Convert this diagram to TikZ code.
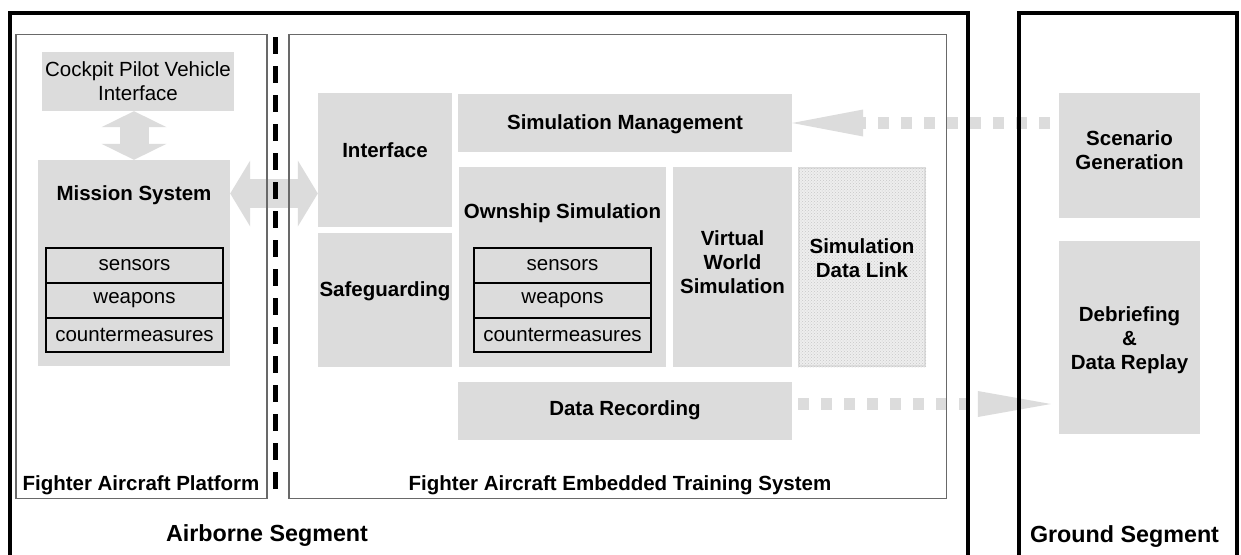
\documentclass[tikz,border=0pt]{standalone}
\usepackage{fontspec}
\setmainfont{Liberation Sans}
\usetikzlibrary{arrows.meta,patterns}
\definecolor{boxgray}{RGB}{220,220,220}
\definecolor{framegray}{RGB}{105,105,105}
\definecolor{linkgray}{RGB}{238,238,238}
\tikzset{
  box/.style={fill=boxgray, draw=none, inner sep=0pt, minimum width=#1},
  box/.default=10pt,
  txt/.style={inner sep=0pt, align=center, font=\fontsize{20.5}{24}\selectfont\bfseries},
  segtxt/.style={inner sep=0pt, align=center, font=\fontsize{23.3}{27}\selectfont\bfseries},
  rtxt/.style={inner sep=0pt, align=center, font=\fontsize{20.5}{24}\selectfont},
  row/.style={fill=boxgray, draw=black, line width=1.2pt, inner sep=0pt, minimum width=177pt,
              font=\fontsize{20.5}{24}\selectfont},
  blockarrow/.style={draw=boxgray, line width=29pt},
  dotline/.style={draw=boxgray, line width=12pt, dash pattern=on 11pt off 12pt},
  frame/.style={draw=black, line width=4pt},
  subframe/.style={draw=framegray, line width=1.3pt},
}
\begin{document}
\begin{tikzpicture}[x=1pt,y=-1pt]
\useasboundingbox (0,0) rectangle (1241,554);
\fill[white] (0,0) rectangle (1241,554);

% boxes
\node[box, minimum width=192pt, minimum height=59pt] (cpvi) at (138,81.5) {};
\node[box, minimum width=192pt, minimum height=206pt] (mission) at (134,263) {};
\node[row, minimum height=35pt] (ms1) at (134.5,265.5) {sensors};
\node[row, minimum height=35pt] (ms2) at (134.5,300.5) {weapons};
\node[row, minimum height=34pt] (ms3) at (134.5,335) {countermeasures};

\node[box, minimum width=134pt, minimum height=134pt] (iface) at (385,160) {};
\node[box, minimum width=134pt, minimum height=134pt] (safe) at (385,300) {};
\node[box, minimum width=334pt, minimum height=58pt] (simmgmt) at (625,123) {};
\node[box, minimum width=207pt, minimum height=200pt] (ownship) at (562.5,267) {};
\node[row, minimum height=35pt] (os1) at (562.5,265.5) {sensors};
\node[row, minimum height=35pt] (os2) at (562.5,300.5) {weapons};
\node[row, minimum height=34pt] (os3) at (562.5,335) {countermeasures};
\node[box, minimum width=119pt, minimum height=200pt] (vws) at (732.5,267) {};
\node[fill=linkgray, draw=black!13, line width=2pt, inner sep=0pt,
      minimum width=126pt, minimum height=198pt] (sdl) at (862,267) {};
\fill[pattern=crosshatch dots, pattern color=black!22] (sdl.south west) rectangle (sdl.north east);
\node[box, minimum width=334pt, minimum height=58pt] (datarec) at (625,411) {};
\node[box, minimum width=141pt, minimum height=125pt] (scen) at (1129.5,155.5) {};
\node[box, minimum width=141pt, minimum height=193pt] (debrief) at (1129.5,337.5) {};

% texts
\node[rtxt] (cpvi-t) at (138,81.5) {Cockpit Pilot Vehicle\\Interface};
\node[txt] (mission-t) at (134,195) {Mission System};
\node[txt] (iface-t) at (385,150) {Interface};
\node[txt] (safe-t) at (385,291) {Safeguarding};
\node[txt] (simmgmt-t) at (625,124) {Simulation Management};
\node[txt] (ownship-t) at (562.5,213) {Ownship Simulation};
\node[txt] (vws-t) at (732.5,262) {Virtual\\World\\Simulation};
\node[txt] (sdl-t) at (862,258) {Simulation\\Data Link};
\node[txt] (datarec-t) at (625,410) {Data Recording};
\node[txt] (scen-t) at (1129.5,150) {Scenario\\Generation};
\node[txt] (debrief-t) at (1129.5,340) {Debriefing\\\&\\Data Replay};
\node[txt] (fap-t) at (141,485) {Fighter Aircraft Platform};
\node[txt] (faets-t) at (620,485) {Fighter Aircraft Embedded Training System};
\node[segtxt] (air-t) at (267,536) {Airborne Segment};
\node[segtxt] (ground-t) at (1124.5,537) {Ground Segment};

% block arrows
\draw[blockarrow,
  {Triangle[length=16pt 0 0,width=65pt 0 0,line width=0pt 0 0]}-{Triangle[length=16pt 0 0,width=65pt 0 0,line width=0pt 0 0]}]
  (cpvi.south -| mission.north) -- (mission.north);
\coordinate (hy) at (0,193.5);
\draw[blockarrow,
  {Triangle[length=20pt 0 0,width=66pt 0 0,line width=0pt 0 0]}-{Triangle[length=20pt 0 0,width=66pt 0 0,line width=0pt 0 0]}]
  (mission.east |- hy) -- (iface.west |- hy);

% dotted arrows
\draw[dotline, -{Triangle[length=71pt 0 0,width=27pt 0 0,line width=0pt 0 0]}, shorten <=9pt]
  (scen.west |- simmgmt.east) -- (simmgmt.east);
\coordinate (dy) at (0,404);
\draw[dotline, -{Triangle[length=73pt 0 0,width=26pt 0 0,line width=0pt 0 0]}, shorten <=6pt, shorten >=8pt]
  (datarec.east |- dy) -- (debrief.west |- dy);

% frames
\begin{scope}
\clip (0,0) rectangle (1241,554);
\draw[subframe] (16,34.5) rectangle (267,498.5);
\draw[subframe] (289,34.5) rectangle (946.5,498.5);
\draw[draw=black, line width=5pt, dash pattern=on 17pt off 12pt] (275.5,37) -- (275.5,495);
\draw[frame] (9.5,12.5) rectangle (967.5,580);
\draw[frame] (1019,12.5) rectangle (1236.5,580);
\end{scope}
\end{tikzpicture}
\end{document}
